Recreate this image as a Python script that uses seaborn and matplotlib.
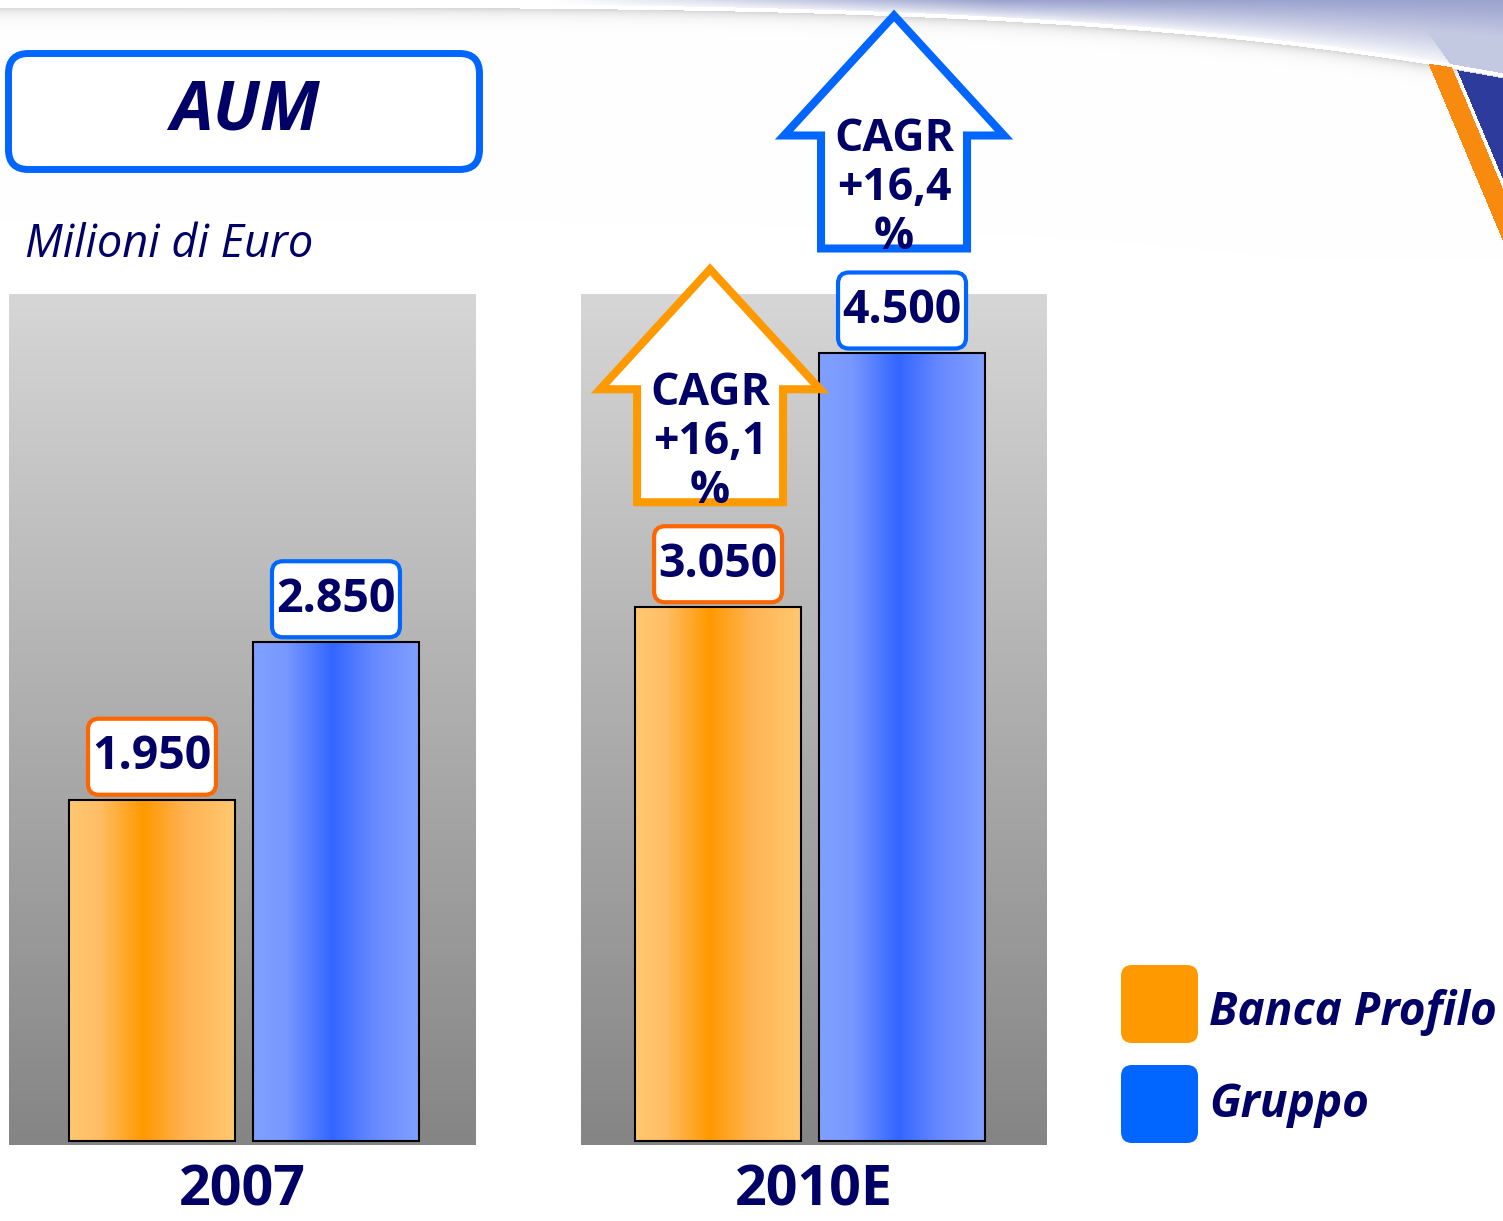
import numpy as np
import pandas as pd
import matplotlib.pyplot as plt
import matplotlib.transforms as mtransforms
import seaborn as sns
from matplotlib.patches import FancyBboxPatch, Polygon
from matplotlib.colors import LinearSegmentedColormap, to_rgb

# data
years = ['2007', '2010E']
series = ['Banca Profilo', 'Gruppo']
banca_profilo = [1950, 3050]
gruppo = [2850, 4500]
cagr_pct = [16.1, 16.4]   # Banca Profilo, Gruppo (2007 -> 2010E)

df = pd.DataFrame({'year': np.repeat(years, len(series)),
                   'series': series * len(years),
                   'value': [v for pair in zip(banca_profilo, gruppo) for v in pair]})

NAVY = '#000066'
W, H = 1503, 1221
series_colors = {'Banca Profilo': '#FF9900', 'Gruppo': '#0066FF'}
box_edges = {'Banca Profilo': '#FF6600', 'Gruppo': '#0066FF'}
bar_grads = {
    'Banca Profilo': LinearSegmentedColormap.from_list('o', [(0, '#FFC870'), (0.18, '#FFBE66'), (0.45, '#FF9900'),
                                                            (0.7, '#FFB352'), (1, '#FFC870')]),
    'Gruppo': LinearSegmentedColormap.from_list('b', [(0, '#80A0FF'), (0.2, '#7898FF'), (0.48, '#3366FF'),
                                                     (0.72, '#6688FF'), (1, '#80A0FF')]),
}
panel_grad = LinearSegmentedColormap.from_list('g', ['#D6D6D6', '#858585'])

sns.set_theme(style='white')
plt.rcParams['font.family'] = ['Open Sans', 'DejaVu Sans']

fig = plt.figure(figsize=(W / 100, H / 100), dpi=100)

# ---- background layer in pixel coordinates (decoration, title, legend)
bg = fig.add_axes([0, 0, 1, 1], zorder=-1)
bg.axis('off')

yy, xx = np.mgrid[0:260, 0:W].astype(float)
img = np.ones((260, W, 3))
line_y = 5 + 70 * (xx / W) ** 4
s = np.clip((xx - 550) / 450, 0, 1) * np.clip(1 - yy / np.maximum(line_y, 1), 0, 1) ** 0.8 * 0.85
s = np.where(xx > 1405 + 0.7 * yy, np.maximum(s, 0.5), s)
above = yy < line_y - 2
lav = np.array(to_rgb('#8A93C6'))
img[above] = 1 - s[above, None] * (1 - lav)
shade = np.where(yy > line_y + 2, np.exp(-(yy - line_y - 2) / 6) * 0.16, 0)
img = img - shade[..., None]
x_left = 1430 + 0.42 * (yy - 68)
stripe = (yy > line_y + 1) & (xx >= x_left) & (xx < x_left + 22)
img[stripe] = to_rgb('#F98A10')
dark = (yy > line_y + 3) & (xx >= x_left + 26)
img[dark] = to_rgb('#2C3B9C')
bg.imshow(np.clip(img, 0, 1), extent=(0, W, 260, 0), aspect='auto', zorder=0)
bg.set_xlim(0, W)
bg.set_ylim(H, 0)

bg.add_patch(FancyBboxPatch((8.5, 53.5), 471, 116, boxstyle='round,pad=0,rounding_size=20',
                            fc='white', ec='#0066FF', lw=5, zorder=2))
bg.text(245, 112, 'AUM', ha='center', va='center', fontsize=49, fontweight='bold',
        fontstyle='italic', color=NAVY, zorder=3)
bg.text(25, 257, 'Milioni di Euro', ha='left', va='baseline', fontsize=32.5,
        fontstyle='italic', color=NAVY)

for i, name in enumerate(series):
    bg.add_patch(FancyBboxPatch((1121, 965 + i * 100), 77, 78, boxstyle='round,pad=0,rounding_size=11',
                                fc=series_colors[name], ec='none', zorder=2))
    bg.text(1209, 1012 + i * 93, name, ha='left', va='center', fontsize=33, fontweight='bold',
            fontstyle='italic', color=NAVY)

# ---- bar panels
panel_rects = [[9 / W, 1 - 1145 / H, 467 / W, 851 / H], [581 / W, 1 - 1145 / H, 466 / W, 851 / H]]
xlims = [(-0.777, 1.761), (-0.745, 1.788)]


def draw_arrow(ax, bar, color, pct):
    x = bar.get_x() + bar.get_width() / 2
    t = fig.dpi_scale_trans + mtransforms.ScaledTranslation(x, bar.get_height(), ax.transData)
    cx, yb, sw, hw = -8, 105, 73, 110
    yh, yt = yb + 113, yb + 113 + 120
    verts = np.array([(cx - sw, yb), (cx + sw, yb), (cx + sw, yh), (cx + hw, yh), (cx, yt),
                      (cx - hw, yh), (cx - sw, yh)]) / 100
    ax.add_patch(Polygon(verts, closed=True, fc='white', ec=color, lw=5.8, joinstyle='miter',
                         transform=t, clip_on=False, zorder=5))
    label = 'CAGR\n+{}\n%'.format(str(pct).replace('.', ','))
    ax.text(cx / 100, (yb + 60) / 100, label, transform=t, ha='center', va='center', fontsize=32,
            fontweight='bold', color=NAVY, linespacing=1.12, zorder=6, clip_on=False)


for k, (ax_rect, year) in enumerate(zip(panel_rects, years)):
    ax = fig.add_axes(ax_rect)
    sub = df[df['year'] == year]
    sns.barplot(data=sub, x='series', y='value', hue='series', order=series, hue_order=series,
                palette=series_colors, width=0.9, edgecolor='black', linewidth=1.5,
                legend=False, ax=ax)
    ax.imshow(np.linspace(0, 1, 256)[:, None], cmap=panel_grad, extent=(0, 1, 0, 1),
              transform=ax.transAxes, aspect='auto', zorder=-5)
    for container, name in zip(ax.containers, series):
        for bar in container:
            x0, w, h = bar.get_x(), bar.get_width(), bar.get_height()
            im = ax.imshow(np.linspace(0, 1, 256)[None, :], cmap=bar_grads[name],
                           extent=(x0, x0 + w, 0, h), aspect='auto', zorder=bar.get_zorder() - 0.05)
            im.set_clip_path(bar)
            bar.set_facecolor('none')
            # value label in a rounded box, 43 px above the bar top
            t = fig.dpi_scale_trans + mtransforms.ScaledTranslation(x0 + w / 2, h, ax.transData)
            ax.add_patch(FancyBboxPatch((-0.64, 0.05), 1.28, 0.76, boxstyle='round,pad=0,rounding_size=0.11',
                                        fc='white', ec=box_edges[name], lw=3, transform=t,
                                        clip_on=False, zorder=6))
            ax.text(0, 0.43, '{:,}'.format(int(h)).replace(',', '.'), transform=t,
                    ha='center', va='center', fontsize=33.5, fontweight='bold', color=NAVY,
                    zorder=7, clip_on=False)
            if year == years[-1]:
                draw_arrow(ax, bar, series_colors[name], cagr_pct[series.index(name)])
    ax.set_xlim(*xlims[k])
    ax.set_ylim(-23, 4840)
    ax.set_xticks([])
    ax.set_yticks([])
    ax.set_ylabel('')
    ax.set_xlabel(year, fontsize=40, fontweight='bold', color=NAVY, labelpad=13)
    sns.despine(ax=ax, left=True, bottom=True)
    ax.patch.set_alpha(0)

fig.savefig('out.png', dpi=100)
